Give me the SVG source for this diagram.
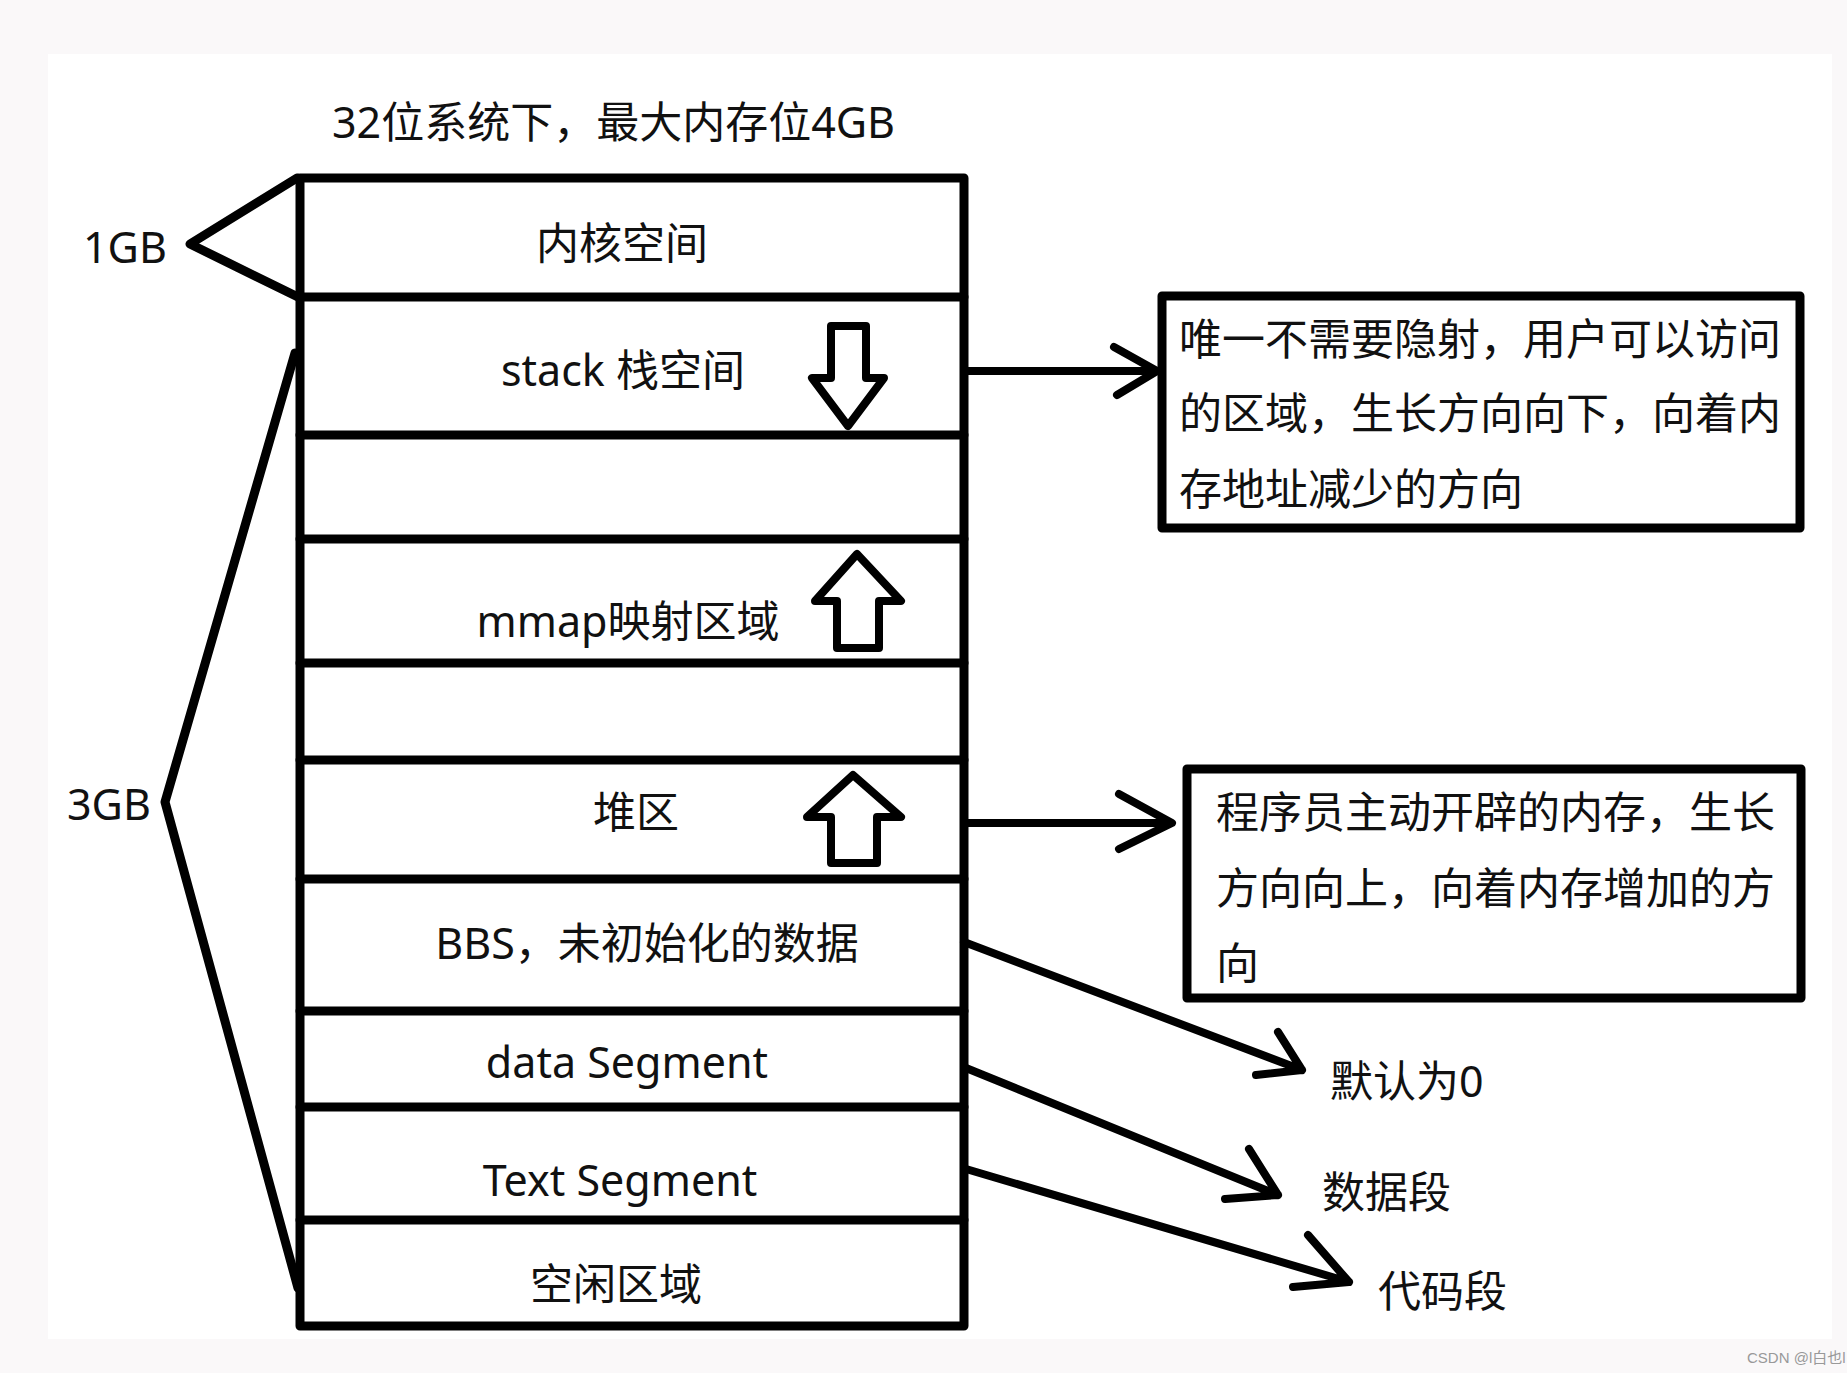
<svg xmlns="http://www.w3.org/2000/svg" width="1847" height="1373" viewBox="0 0 1847 1373">
<style>
.t{font-family:"Noto Sans","Noto Sans CJK SC",sans-serif;font-size:43px;fill:#111;}
.c{text-anchor:middle;}
.ln{fill:none;stroke:#000;stroke-width:9;stroke-linecap:round;stroke-linejoin:round;}
.ar{fill:#fff;stroke:#000;stroke-width:8;stroke-linejoin:round;}
.cn{fill:none;stroke:#000;stroke-width:8;stroke-linecap:round;stroke-linejoin:round;}
</style>
<rect x="0" y="0" width="1847" height="1373" fill="#faf8f9"/>
<rect x="48" y="54" width="1784" height="1285" fill="#fff"/>
<g id="title"><text class="t" x="332" y="138">32位系统下，最大内存位4GB</text></g>
<g id="brackets">
<polyline class="ln" points="297,178 190,244 298,297"/>
<text class="t" x="83" y="263">1GB</text>
<polyline class="ln" points="295,353 165,802 298,1288"/>
<text class="t" x="67" y="820">3GB</text>
</g>
<g id="memory">
<rect class="ln" x="300" y="178" width="664" height="1148" stroke-linecap="butt"/>
<g id="kernel"><text class="t c" x="622" y="259">内核空间</text></g>
<line class="ln" x1="300" y1="297" x2="964" y2="297"/>
<g id="stack"><text class="t c" x="623" y="386">stack 栈空间</text>
<path class="ar" d="M831,326 H866 V378 H884 L848,426 L812,378 H831 Z"/></g>
<line class="ln" x1="300" y1="435" x2="964" y2="435"/>
<g id="gap1"></g>
<line class="ln" x1="300" y1="539" x2="964" y2="539"/>
<g id="mmap"><text class="t c" x="628" y="637">mmap映射区域</text>
<path class="ar" d="M857,554 L901,601 H879 V648 H837 V601 H815 Z"/></g>
<line class="ln" x1="300" y1="663" x2="964" y2="663"/>
<g id="gap2"></g>
<line class="ln" x1="300" y1="760" x2="964" y2="760"/>
<g id="heap"><text class="t c" x="636" y="828">堆区</text>
<path class="ar" d="M853,775 L901,817 H877 V863 H831 V817 H807 Z"/></g>
<line class="ln" x1="300" y1="879" x2="964" y2="879"/>
<g id="bss"><text class="t c" x="647" y="959">BBS，未初始化的数据</text></g>
<line class="ln" x1="300" y1="1011" x2="964" y2="1011"/>
<g id="data"><text class="t c" x="627" y="1078">data Segment</text></g>
<line class="ln" x1="300" y1="1107" x2="964" y2="1107"/>
<g id="text"><text class="t c" x="620" y="1196">Text Segment</text></g>
<line class="ln" x1="300" y1="1220" x2="964" y2="1220"/>
<g id="free"><text class="t c" x="616" y="1300">空闲区域</text></g>
</g>
<g id="note-stack">
<rect class="ln" x="1162" y="296" width="638" height="232"/>
<text class="t" x="1179" y="355">唯一不需要隐射，用户可以访问</text>
<text class="t" x="1179" y="429">的区域，生长方向向下，向着内</text>
<text class="t" x="1179" y="505">存地址减少的方向</text>
</g>
<g id="note-heap">
<rect class="ln" x="1187" y="769" width="614" height="229"/>
<text class="t" x="1216" y="828">程序员主动开辟的内存，生长</text>
<text class="t" x="1216" y="904">方向向上，向着内存增加的方</text>
<text class="t" x="1216" y="979">向</text>
</g>
<g id="label-bss"><text class="t" x="1330" y="1097">默认为0</text></g>
<g id="label-data"><text class="t" x="1322" y="1208">数据段</text></g>
<g id="label-text"><text class="t" x="1378" y="1307">代码段</text></g>
<g id="connectors">
<path class="cn" d="M964,371 H1155 M1114,347 L1157,371 L1117,395"/>
<path class="cn" d="M964,823 H1170 M1119,794 L1172,823 L1119,849"/>
<path class="cn" d="M964,942 L1302,1070 M1278,1032 L1302,1070 L1256,1075"/>
<path class="cn" d="M966,1068 L1278,1195 M1249,1149 L1278,1195 L1225,1199"/>
<path class="cn" d="M966,1169 L1349,1282 M1308,1235 L1349,1282 L1293,1287"/>
</g>
<text x="1747" y="1363" font-family="'Liberation Sans','Noto Sans CJK SC',sans-serif" font-size="15" fill="#999">CSDN @l白也l</text>
</svg>
